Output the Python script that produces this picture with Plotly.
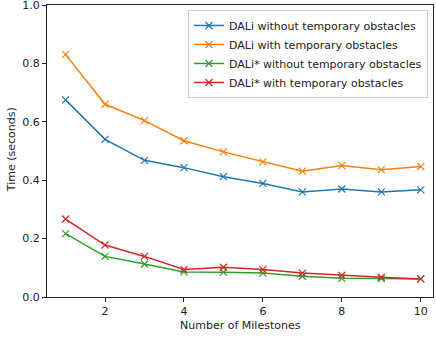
import plotly.graph_objects as go

milestones = [1, 2, 3, 4, 5, 6, 7, 8, 9, 10]
dali_without = [0.675, 0.540, 0.468, 0.443, 0.412, 0.389, 0.360, 0.370, 0.360, 0.367]
dali_with = [0.831, 0.660, 0.604, 0.535, 0.497, 0.463, 0.431, 0.450, 0.436, 0.447]
dalistar_without = [0.217, 0.139, 0.113, 0.086, 0.085, 0.082, 0.071, 0.064, 0.063, 0.062]
dalistar_with = [0.267, 0.178, 0.139, 0.094, 0.102, 0.094, 0.082, 0.074, 0.068, 0.062]
x_ticks = [2, 4, 6, 8, 10]
y_ticks = [0.0, 0.2, 0.4, 0.6, 0.8, 1.0]

series = [
    ("DALi without temporary obstacles", dali_without, "#1f77b4"),
    ("DALi with temporary obstacles", dali_with, "#ff7f0e"),
    ("DALi* without temporary obstacles", dalistar_without, "#2ca02c"),
    ("DALi* with temporary obstacles", dalistar_with, "#d62728"),
]

fig = go.Figure()
for name, vals, color in series:
    fig.add_trace(go.Scatter(
        x=milestones, y=vals, name=name, mode="lines+markers",
        line=dict(color=color, width=1.5),
        marker=dict(symbol="x-thin", size=7, line=dict(color=color, width=1.2), color=color),
    ))

fig.update_layout(
    width=436, height=337,
    margin=dict(l=47, r=3, t=5, b=40, autoexpand=False),
    paper_bgcolor="white", plot_bgcolor="white",
    font=dict(family="DejaVu Sans", size=11, color="#222"),
    showlegend=True,
    legend=dict(
        x=0.987, y=0.983, xanchor="right", yanchor="top",
        bgcolor="rgba(255,255,255,0.8)", bordercolor="#cccccc", borderwidth=1,
        font=dict(size=11), tracegroupgap=0, itemwidth=30,
    ),
    xaxis=dict(
        range=[0.53, 10.31], tickvals=x_ticks, automargin=False, ticklabeloverflow="allow",
        showline=True, linecolor="#222", linewidth=1, mirror=True,
        ticks="outside", ticklen=4, tickcolor="#222", showgrid=False, zeroline=False,
    ),
    yaxis=dict(
        range=[0, 1.0], tickvals=y_ticks, tickformat=".1f", automargin=False,
        ticklabeloverflow="allow",
        showline=True, linecolor="#222", linewidth=1, mirror=True,
        ticks="outside", ticklen=4, tickcolor="#222", showgrid=False, zeroline=False,
    ),
    annotations=[
        dict(text="Number of Milestones", xref="paper", yref="paper", x=0.502, y=-0.096,
             xanchor="center", yanchor="middle", showarrow=False, font=dict(size=11)),
        dict(text="Time (seconds)", xref="paper", yref="paper", x=-0.093, y=0.503,
             xanchor="center", yanchor="middle", textangle=-90, showarrow=False, font=dict(size=11)),
    ],
)

fig.write_html("out.html", config={"displayModeBar": False},
               post_script="document.body.style.margin='0';")
